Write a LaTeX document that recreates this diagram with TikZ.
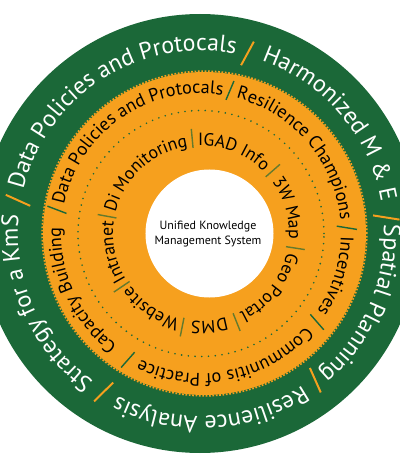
\documentclass[tikz,border=0pt]{standalone}
\usepackage{fontspec}
\setmainfont{PT Sans}
\usepackage{tikz}
\usetikzlibrary{decorations.text}
\definecolor{kmsgreen}{RGB}{27,104,56}
\definecolor{kmsorange}{RGB}{246,160,30}
\definecolor{kmsolive}{RGB}{100,122,45}
\newcommand{\outerringfont}{\fontsize{17}{19}\selectfont}
\newcommand{\middleringfont}{\fontsize{13}{15}\selectfont}
\newcommand{\innerringfont}{\fontsize{12.6}{14}\selectfont}

\begin{document}
\begin{tikzpicture}[x=0.025cm, y=0.025cm,
  outerlabel/.style={decorate, decoration={text along path, text align=center,
    text color=white, text={|\outerringfont|#1}}},
  middlelabel/.style={decorate, decoration={text along path, text align=center,
    text color=black, text={|\middleringfont|#1}}},
  innerlabel/.style={decorate, decoration={text along path, text align=center,
    text color=black, text={|\innerringfont|#1}}},
  outersep/.style={kmsorange, line width=1.4pt},
  middlesep/.style={kmsgreen, line width=1pt},
  innersep/.style={kmsolive, line width=1pt}]
  \useasboundingbox (-201,-233.5) rectangle (199,233.5);
  % discs
  \fill[kmsgreen] (-1,0) circle[radius=219.5];
  \fill[kmsorange] (3.5,0) circle[radius=161.5];
  \draw[kmsorange, line width=1.2pt, dash pattern=on 1.2pt off 1.2pt] (3.5,0) circle[radius=162.3];
  \draw[kmsgreen, line width=1.3pt, line cap=round, dash pattern=on 0pt off 4.8pt] (0,0) circle[radius=123];
  \fill[white] (8.5,0) circle[radius=64];
  \node[align=center, font=\fontsize{8.5}{10.2}\selectfont] (kms) at (7,-0.5) {Unified Knowledge\\Management System};
  % outer ring
  \path[outerlabel={Data Policies and Protocals}] (169.8:183) arc[start angle=169.8, end angle=75.6, radius=183];
  \path[outerlabel={Harmonized M {\&} E}] (75.6:183) arc[start angle=75.6, end angle=5, radius=183];
  \path[outerlabel={Spatial Planning}] (5:183) arc[start angle=5, end angle=-52, radius=183];
  \path[outerlabel={Resilience Analysis}] (-52:183) arc[start angle=-52, end angle=-121.5, radius=183];
  \path[outerlabel={Strategy for a KmS}] (-121.5:183) arc[start angle=-121.5, end angle=-190.2, radius=183];
  \draw[outersep] (76.6:173) -- (74.6:199);
  \draw[outersep] (6:173) -- (4:199);
  \draw[outersep] (-51:173) -- (-53:199);
  \draw[outersep] (-120.5:173) -- (-122.5:199);
  \draw[outersep] (170.8:173) -- (168.8:199);
  % middle ring
  \path[middlelabel={Data Policies and Protocals}] (170.7:140) arc[start angle=170.7, end angle=78.6, radius=140];
  \path[middlelabel={Resilience Champions}] (78.6:140) arc[start angle=78.6, end angle=2.3, radius=140];
  \path[middlelabel={Incentives}] (2.3:140) arc[start angle=2.3, end angle=-37.3, radius=140];
  \path[middlelabel={Communitis of Practice}] (-37.3:140) arc[start angle=-37.3, end angle=-120, radius=140];
  \path[middlelabel={Capacity Building}] (-120:140) arc[start angle=-120, end angle=-189.3, radius=140];
  \draw[middlesep] (79.4:136) -- (77.8:156);
  \draw[middlesep] (3.1:136) -- (1.5:156);
  \draw[middlesep] (-36.5:136) -- (-38.1:156);
  \draw[middlesep] (-119.2:136) -- (-120.8:156);
  \draw[middlesep] (171.5:136) -- (169.9:156);
  % inner ring
  \path[innerlabel={Di Monitoring}] (169.6:88) arc[start angle=169.6, end angle=95.3, radius=88];
  \path[innerlabel={IGAD Info}] (95.3:88) arc[start angle=95.3, end angle=41.2, radius=88];
  \path[innerlabel={3W Map}] (41.2:88) arc[start angle=41.2, end angle=-8.8, radius=88];
  \path[innerlabel={Geo Portal}] (-8.8:88) arc[start angle=-8.8, end angle=-68.1, radius=88];
  \path[innerlabel={DMS}] (-68.1:88) arc[start angle=-68.1, end angle=-101.4, radius=88];
  \path[innerlabel={Website}] (-101.4:88) arc[start angle=-101.4, end angle=-146.1, radius=88];
  \path[innerlabel={Intranet}] (-146.1:88) arc[start angle=-146.1, end angle=-190.4, radius=88];
  \draw[innersep] (95.3:86) -- (95.3:105);
  \draw[innersep] (41.2:86) -- (41.2:105);
  \draw[innersep] (-8.8:86) -- (-8.8:105);
  \draw[innersep] (-68.1:86) -- (-68.1:105);
  \draw[innersep] (-101.4:86) -- (-101.4:105);
  \draw[innersep] (-146.1:86) -- (-146.1:105);
  \draw[innersep] (169.6:86) -- (169.6:105);
\end{tikzpicture}
\end{document}
